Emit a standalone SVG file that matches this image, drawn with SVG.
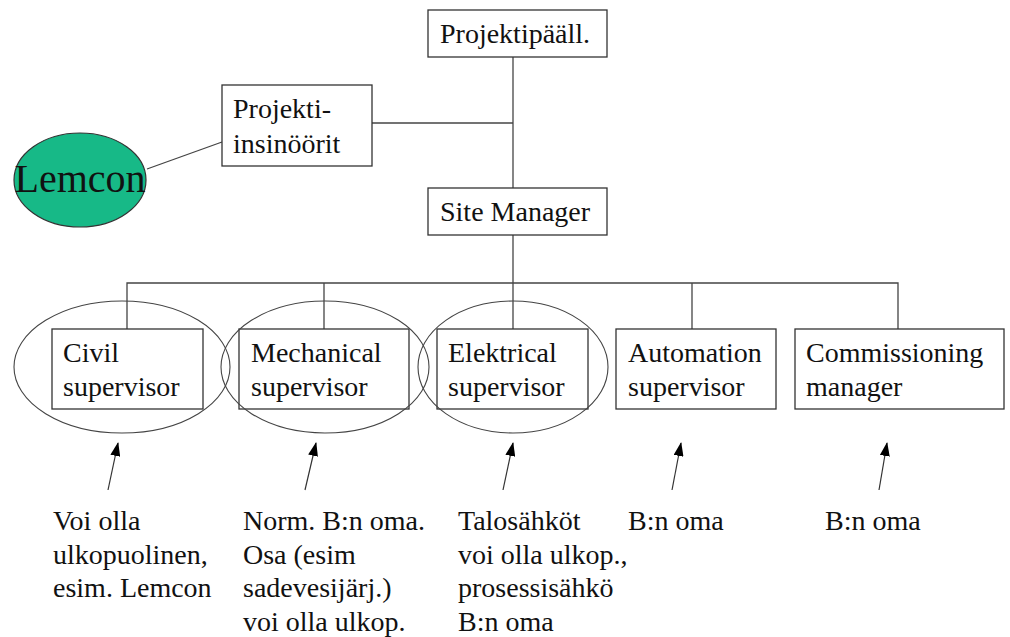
<svg xmlns="http://www.w3.org/2000/svg" width="1010" height="637" viewBox="0 0 1010 637">
<style>
text{font-family:"Liberation Serif","Times New Roman",serif;font-size:28px;fill:#111}
.box{fill:#fff;stroke:#333;stroke-width:1.3}
.ring{fill:none;stroke:#444;stroke-width:1.1}
.ln{stroke:#444;stroke-width:1.3;fill:none}
.arr{stroke:#333;stroke-width:1.2;fill:none;marker-end:url(#ah)}
</style>
<defs>
<marker id="ah" viewBox="0 0 14 10" refX="13" refY="5" markerWidth="14" markerHeight="10" markerUnits="userSpaceOnUse" orient="auto">
<path d="M0,0 L14,5 L0,10 Z" fill="#000"/>
</marker>
</defs>
<rect width="1010" height="637" fill="#fff"/>
<g id="connectors">
<line class="ln" x1="513" y1="57" x2="513" y2="188"/>
<line class="ln" x1="372" y1="123" x2="513" y2="123"/>
<line class="ln" x1="147" y1="169" x2="222" y2="142"/>
<line class="ln" x1="513" y1="235" x2="513" y2="329"/>
<polyline class="ln" points="127,329 127,283 898,283 898,329"/>
<line class="ln" x1="324" y1="283" x2="324" y2="329"/>
<line class="ln" x1="692" y1="283" x2="692" y2="329"/>
<line class="arr" x1="108" y1="490" x2="118" y2="443"/>
<line class="arr" x1="305" y1="490" x2="316" y2="443"/>
<line class="arr" x1="503" y1="490" x2="513" y2="443"/>
<line class="arr" x1="672" y1="490" x2="681" y2="443"/>
<line class="arr" x1="879" y1="490" x2="887" y2="443"/>
</g>
<g id="projektipaall"><rect class="box" x="428" y="10" width="179" height="47"/><text x="440" y="43">Projektipääll.</text></g>
<g id="projekti-insinoorit"><rect class="box" x="222" y="85" width="150" height="81"/><text x="233" y="118">Projekti-</text><text x="233" y="153">insinöörit</text></g>
<g id="lemcon"><ellipse cx="80" cy="180" rx="66" ry="47" fill="#17b987" stroke="#333" stroke-width="1.2"/><text x="80" y="192" text-anchor="middle" style="font-size:40px">Lemcon</text></g>
<g id="site-manager"><rect class="box" x="428" y="188" width="179" height="47"/><text x="440" y="221">Site Manager</text></g>
<g id="civil"><rect class="box" x="52" y="329" width="151" height="80"/><text x="63" y="362">Civil</text><text x="63" y="396">supervisor</text></g>
<g id="mechanical"><rect class="box" x="239" y="329" width="170" height="80"/><text x="251" y="362">Mechanical</text><text x="251" y="396">supervisor</text></g>
<g id="elektrical"><rect class="box" x="437" y="329" width="151" height="80"/><text x="448" y="362">Elektrical</text><text x="448" y="396">supervisor</text></g>
<g id="automation"><rect class="box" x="616" y="329" width="160" height="80"/><text x="628" y="362">Automation</text><text x="628" y="396">supervisor</text></g>
<g id="commissioning"><rect class="box" x="795" y="329" width="209" height="80"/><text x="806" y="362">Commissioning</text><text x="806" y="396">manager</text></g>
<g id="rings">
<ellipse class="ring" cx="122" cy="367" rx="108" ry="66"/>
<ellipse class="ring" cx="325" cy="367" rx="104" ry="66"/>
<ellipse class="ring" cx="513" cy="367" rx="95" ry="66"/>
</g>
<g id="notes">
<text x="53" y="530">Voi olla</text><text x="53" y="564">ulkopuolinen,</text><text x="53" y="597">esim. Lemcon</text>
<text x="243" y="530">Norm. B:n oma.</text><text x="243" y="564">Osa (esim</text><text x="243" y="597">sadevesijärj.)</text><text x="243" y="631">voi olla ulkop.</text>
<text x="458" y="530">Talosähköt</text><text x="458" y="564">voi olla ulkop.,</text><text x="458" y="597">prosessisähkö</text><text x="458" y="631">B:n oma</text>
<text x="628" y="530">B:n oma</text>
<text x="825" y="530">B:n oma</text>
</g>
</svg>
